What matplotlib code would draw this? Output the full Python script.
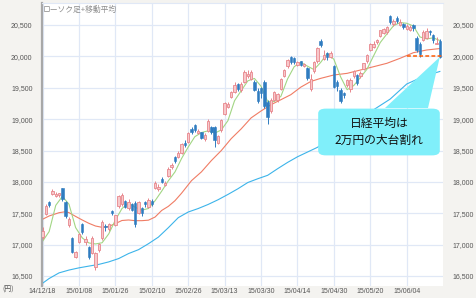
import numpy as np
import matplotlib
matplotlib.use("Agg")
import matplotlib.pyplot as plt
from matplotlib.patches import FancyBboxPatch, Polygon
from matplotlib.ticker import FuncFormatter

plt.rcParams['font.family'] = ['Liberation Sans', 'Noto Sans CJK JP', 'DejaVu Sans']

# daily candles (Nikkei 225), 14/12/18 .. 15/06/18
opens  = [17120, 17490, 17680, 17810, 17780, 17790, 17900, 17680, 17320, 17110,
          16800, 17040, 17330, 17040, 16960, 16870, 16650, 16910, 17110, 17300,
          17250, 17530, 17320, 17610, 17640, 17690, 17580, 17640, 17660, 17500,
          17580, 17680, 17600, 17700, 17900, 17880, 18050, 17950, 18100, 18230,
          18390, 18400, 18460, 18620, 18640, 18850, 18900, 18780, 18790, 18680,
          18810, 18870, 18880, 18620, 18820, 19090, 19200, 19360, 19440, 19560,
          19470, 19600, 19680, 19640, 19600, 19450, 19500, 19600, 19280, 19130,
          19310, 19300, 19480, 19690, 19840, 19990, 19970, 19870, 19920, 19840,
          19820, 19480, 19760, 19930, 20250, 19960, 20060, 19990, 19850, 19600,
          19470, 19420, 19540, 19480, 19680, 19700, 19680, 19800, 19930, 20110,
          20150, 20230, 20330, 20370, 20390, 20640, 20510, 20620, 20500, 20520,
          20440, 20420, 20500, 20300, 20200, 20260, 20300, 20400, 20340, 20200,
          20240]
highs  = [17280, 17650, 17700, 17880, 17840, 17830, 17910, 17700, 17440, 17120,
          16900, 17190, 17340, 17130, 16980, 17130, 16880, 17030, 17390, 17330,
          17350, 17560, 17480, 17790, 17830, 17710, 17720, 17660, 17690, 17700,
          17600, 17700, 17740, 17720, 18010, 17970, 18080, 18010, 18230, 18300,
          18420, 18490, 18620, 18660, 18800, 18880, 18930, 18850, 18800, 18780,
          19000, 18890, 18890, 18740, 19010, 19280, 19270, 19450, 19600, 19580,
          19590, 19780, 19780, 19780, 19620, 19500, 19520, 19620, 19300, 19330,
          19450, 19420, 19660, 19800, 19960, 20010, 19990, 19930, 19930, 19900,
          19830, 19720, 19930, 20150, 20280, 20100, 20070, 20080, 19870, 19620,
          19490, 19440, 19640, 19650, 19790, 19720, 19760, 19900, 20040, 20210,
          20250, 20280, 20420, 20450, 20480, 20655, 20600, 20650, 20590, 20540,
          20520, 20500, 20520, 20330, 20230, 20420, 20450, 20420, 20360, 20310,
          20270]
lows   = [17090, 17470, 17600, 17790, 17760, 17760, 17700, 17420, 17280, 16860,
          16780, 17020, 17170, 16990, 16770, 16850, 16590, 16890, 17080, 17220,
          17220, 17470, 17300, 17590, 17620, 17580, 17560, 17530, 17280, 17490,
          17460, 17600, 17580, 17620, 17880, 17860, 17980, 17930, 18080, 18200,
          18300, 18380, 18440, 18560, 18620, 18770, 18800, 18760, 18680, 18650,
          18790, 18770, 18560, 18600, 18800, 19070, 19170, 19340, 19420, 19450,
          19440, 19580, 19660, 19620, 19450, 19250, 19330, 19180, 18920, 19100,
          19290, 19280, 19460, 19670, 19820, 19880, 19880, 19850, 19850, 19830,
          19630, 19450, 19740, 19900, 20150, 19940, 19950, 19970, 19500, 19450,
          19260, 19330, 19520, 19440, 19650, 19540, 19660, 19780, 19900, 20090,
          20130, 20200, 20310, 20350, 20360, 20520, 20490, 20540, 20480, 20440,
          20420, 20400, 20400, 20070, 19990, 20240, 20280, 20340, 20220, 20190,
          19980]
closes = [17210, 17621, 17635, 17854, 17809, 17819, 17730, 17451, 17409, 16883,
          16885, 17167, 17198, 17088, 16796, 17109, 16864, 17014, 17366, 17280,
          17329, 17512, 17469, 17768, 17796, 17606, 17674, 17558, 17336, 17679,
          17505, 17649, 17712, 17653, 17980, 17913, 18005, 17987, 18199, 18265,
          18332, 18467, 18603, 18585, 18786, 18798, 18827, 18815, 18704, 18752,
          18971, 18791, 18665, 18724, 18991, 19254, 19246, 19437, 19544, 19477,
          19560, 19754, 19713, 19746, 19471, 19286, 19411, 19207, 19035, 19313,
          19435, 19398, 19641, 19790, 19938, 19908, 19905, 19909, 19870, 19886,
          19653, 19634, 19909, 20134, 20188, 20020, 19983, 20059, 19520, 19532,
          19292, 19379, 19621, 19625, 19765, 19570, 19733, 19890, 20026, 20197,
          20203, 20264, 20414, 20437, 20473, 20551, 20563, 20570, 20543, 20474,
          20488, 20461, 20457, 20096, 20046, 20383, 20407, 20388, 20258, 20219,
          19991]

# moving averages (candle index, value)
green_idx = list(range(0, 121, 2))
green_ma = [17051, 17208, 17626, 17769, 17644, 17272, 17108, 17027, 17011, 17030,
            17171, 17391, 17575, 17663, 17594, 17550, 17576, 17700, 17853, 18017,
            18158, 18373, 18555, 18720, 18786, 18814, 18777, 18828, 18976, 19294,
            19453, 19610, 19649, 19525, 19282, 19280, 19364, 19640, 19836, 19906,
            19845, 19790, 19904, 20047, 19954, 19677, 19469, 19536, 19663, 19797,
            20010, 20221, 20358, 20488, 20540, 20528, 20485, 20310, 20278, 20296,
            20253]
red_idx = [0, 2, 5, 7, 8, 10, 12, 14, 16, 18, 20, 22, 24, 26, 28, 30, 32, 34, 36,
           38, 40, 42, 45, 48, 51, 54, 57, 60, 63, 66, 69, 72, 75, 78, 81, 84, 88,
           92, 96, 100, 104, 108, 112, 116, 120]
red_ma = [17404, 17457, 17509, 17525, 17510, 17450, 17393, 17340, 17297, 17276,
          17290, 17335, 17385, 17393, 17382, 17382, 17390, 17440, 17545, 17610,
          17700, 17820, 18020, 18160, 18340, 18500, 18690, 18845, 19020, 19130,
          19230, 19310, 19390, 19510, 19600, 19650, 19704, 19730, 19783, 19836,
          19890, 19970, 20059, 20102, 20125]
blue_idx = [0, 2, 5, 8, 11, 14, 17, 20, 23, 26, 29, 32, 35, 38, 41, 44, 47, 50, 53,
            56, 59, 62, 65, 68, 71, 74, 77, 80, 83, 90, 95, 100, 105, 110, 115, 120]
blue_ma = [16384, 16460, 16550, 16595, 16630, 16658, 16685, 16725, 16778, 16858,
           16920, 17015, 17120, 17270, 17430, 17520, 17575, 17640, 17715, 17800,
           17890, 17990, 18050, 18105, 18210, 18310, 18400, 18475, 18550, 18800,
           18980, 19150, 19320, 19560, 19680, 19760]

tick_idx = [0, 11, 22, 33, 44, 55, 66, 77, 88, 99, 110]
tick_labels = ['14/12/18', '15/01/08', '15/01/26', '15/02/10', '15/02/26', '15/03/13',
               '15/03/30', '15/04/14', '15/04/30', '15/05/20', '15/06/04']
y_ticks = [16500, 17000, 17500, 18000, 18500, 19000, 19500, 20000, 20500]
break_level = 20000

fig = plt.figure(figsize=(4.76, 2.98), dpi=100, facecolor='#f4f3f0')
ax = fig.add_axes([0.0872, 0.0403, 0.8445, 0.9496])
ax.set_facecolor('white')

o = np.array(opens); h = np.array(highs); l = np.array(lows); c = np.array(closes)
x = np.arange(len(c))
up = c >= o
up_edge, up_face, dn_col = '#e8868c', '#f7c8cb', '#2f7cc0'

# moving averages
ax.plot(blue_idx, blue_ma, color='#3cb4ea', lw=0.8, zorder=2)
ax.plot(red_idx, red_ma, color='#f07c64', lw=0.8, zorder=2)
ax.plot(green_idx, green_ma, color='#a2d684', lw=0.8, zorder=2)

# candles
ax.vlines(x[up], l[up], h[up], color=up_edge, lw=0.7, zorder=3)
ax.vlines(x[~up], l[~up], h[~up], color=dn_col, lw=0.7, zorder=3)
ax.bar(x[up], c[up] - o[up], bottom=o[up], width=0.72, color=up_face,
       edgecolor=up_edge, lw=0.6, zorder=4)
ax.bar(x[~up], o[~up] - c[~up], bottom=c[~up], width=0.72, color=dn_col,
       edgecolor=dn_col, lw=0.4, zorder=4)

ax.set_xlim(-0.3, 121.1)
ax.set_ylim(16341, 20851)

ax.set_yticks(y_ticks)
ax.yaxis.set_major_formatter(FuncFormatter(lambda v, p: f'{int(v):,}'))
ax.set_xticks(tick_idx)
ax.set_xticklabels(tick_labels)
ax.tick_params(axis='y', length=0, labelsize=5, labelcolor='#555555',
               labelleft=True, labelright=True, pad=6.5)
ax.tick_params(axis='x', length=0, labelsize=5, labelcolor='#555555', pad=1.5)
for lab in ax.get_yticklabels():
    lab.set_fontfamily(['Liberation Sans'])
ax.grid(True, color='#e0e8f6', lw=0.9, zorder=0)
ax.set_axisbelow(True)
for s in ['right', 'bottom']:
    ax.spines[s].set_visible(False)
ax.spines['top'].set_color('#e0e8f6')
ax.spines['left'].set_color('#a8a8a8')
ax.spines['left'].set_linewidth(1.6)

# 20,000 break line
ax.plot([110, 121.1], [break_level, break_level], color='#ff5a00', lw=1.1,
        dashes=(2.5, 1.5), zorder=5)

# callout
to_data = lambda fx, fy: ax.transData.inverted().transform(fig.transFigure.transform((fx, fy)))
b1 = to_data(385 / 476, (298 - 108) / 298)
b2 = to_data(428 / 476, (298 - 108) / 298)
wedge = Polygon([b1, b2, (x[-1], c[-1])], closed=True, facecolor='#80effa',
                edgecolor='none', zorder=6)
ax.add_patch(wedge)
box = FancyBboxPatch((322 / 476, (298 - 153) / 298), 114 / 476, 42 / 298,
                     boxstyle='round,pad=0.008,rounding_size=0.016',
                     transform=fig.transFigure, facecolor='#80effa',
                     edgecolor='none', zorder=7)
fig.patches.append(box)
fig.text(379 / 476, (298 - 132) / 298, '日経平均は\n2万円の大台割れ', ha='center',
         va='center', fontsize=8.5, linespacing=1.35, color='#111111',
         family=['Noto Sans CJK JP', 'DejaVu Sans'], zorder=8)

fig.text(43 / 476, (298 - 10) / 298, 'ローソク足+移動平均', ha='left', va='center',
         fontsize=5.6, color='#8a8a8a', family=['Noto Sans CJK JP', 'DejaVu Sans'])
fig.text(2 / 476, (298 - 290) / 298, '(円)', ha='left', va='center', fontsize=5,
         color='#555555', family=['Noto Sans CJK JP', 'DejaVu Sans'])

fig.savefig('out.png', dpi=100, facecolor=fig.get_facecolor())
